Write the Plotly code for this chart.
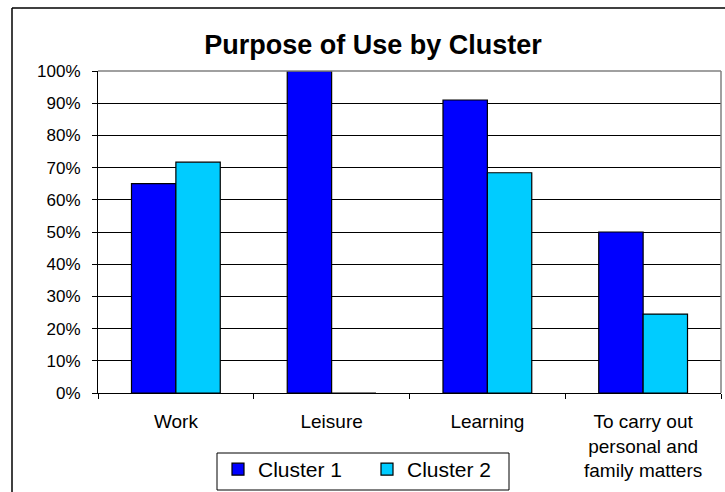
import plotly.graph_objects as go

categories = ["Work", "Leisure", "Learning", "To carry out<br>personal and<br>family matters"]
cluster1 = [0.65, 1.00, 0.91, 0.50]
cluster2 = [0.717, 0.0, 0.684, 0.245]
series_names = ["Cluster 1", "Cluster 2"]
y_ticks = [0, 0.1, 0.2, 0.3, 0.4, 0.5, 0.6, 0.7, 0.8, 0.9, 1.0]

W, H = 725, 492
L, R, T, B = 98, 721, 71, 393

fig = go.Figure()
fig.add_trace(go.Bar(x=categories, y=cluster1, name=series_names[0],
                     marker=dict(color="#0000FF", line=dict(color="black", width=1.2))))
fig.add_trace(go.Bar(x=categories, y=cluster2, name=series_names[1],
                     marker=dict(color="#00CCFF", line=dict(color="black", width=1.2))))

pw, ph = R - L, B - T
def px(x):
    return (x - L) / pw
def py(y):
    return (B - y) / ph

fig.update_layout(
    width=W, height=H,
    margin=dict(l=L, r=W - R, t=T, b=H - B, pad=0, autoexpand=False),
    paper_bgcolor="white", plot_bgcolor="white",
    font=dict(family="Liberation Sans, Arial, sans-serif", size=17, color="black"),
    barmode="group", bargap=0.43, bargroupgap=0,
    title=dict(text="<b>Purpose of Use by Cluster</b>", font=dict(size=27, color="black"),
               x=373 / W, xanchor="center", y=1 - 45 / H, yanchor="middle",
               xref="container", yref="container"),
    legend=dict(orientation="h", x=px(367), xanchor="center", y=py(449), yanchor="top",
                borderwidth=0, bgcolor="rgba(0,0,0,0)",
                font=dict(size=21), itemwidth=30, entrywidth=104, traceorder="normal"),
    showlegend=True,
    xaxis=dict(type="category", showline=True, linecolor="black", linewidth=1,
               ticks="outside", ticklen=5, tickcolor="black", tickson="boundaries",
               showgrid=False, ticklabelstandoff=11, tickfont=dict(size=19), automargin=False),
    yaxis=dict(range=[0, 1], tickvals=y_ticks, tickformat=".0%", showline=True,
               linecolor="black", linewidth=1, ticks="outside", ticklen=5, tickcolor="black",
               showgrid=True, gridcolor="black", gridwidth=1, zeroline=False,
               ticklabelstandoff=8, tickfont=dict(size=17), automargin=False),
    shapes=[
        dict(type="line", xref="paper", yref="paper", x0=0, x1=1, y0=1, y1=1,
             line=dict(color="#808080", width=1.5), layer="above"),
        dict(type="line", xref="paper", yref="paper", x0=1, x1=1, y0=0, y1=1,
             line=dict(color="#808080", width=1.5), layer="above"),
        dict(type="line", xref="paper", yref="paper", x0=px(12), x1=px(12), y0=py(8), y1=py(500),
             line=dict(color="black", width=1.5)),
        dict(type="line", xref="paper", yref="paper", x0=px(12), x1=px(740), y0=py(8), y1=py(8),
             line=dict(color="black", width=1.5)),
        dict(type="rect", xref="paper", yref="paper", x0=px(217), x1=px(509), y0=py(490), y1=py(453),
             line=dict(color="black", width=1), fillcolor="white", layer="above"),
    ],
)

fig.write_html("out.html", config={"displayModeBar": False},
               post_script="document.body.style.margin='0';document.body.style.overflow='hidden';")
